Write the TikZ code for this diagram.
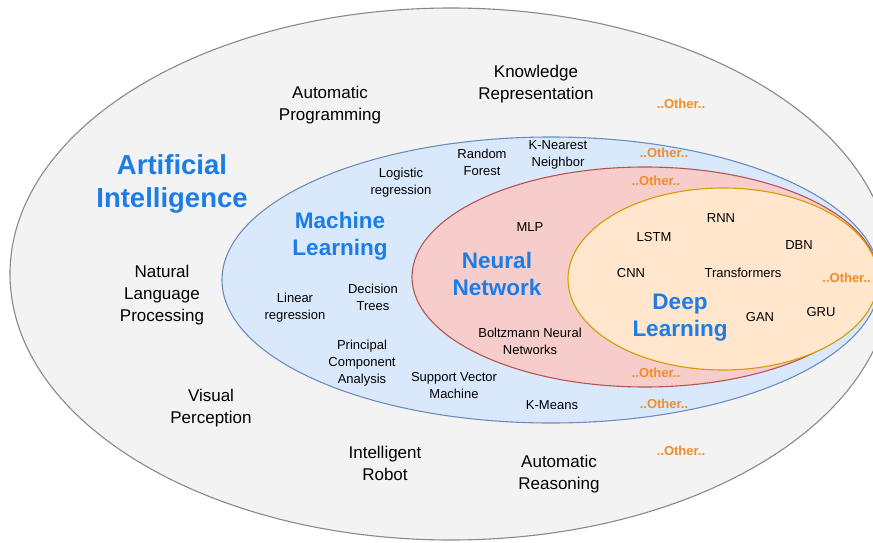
\documentclass[tikz,border=0pt]{standalone}
\usepackage{fontspec}
\setmainfont{Liberation Sans}
\definecolor{aifill}{HTML}{F3F3F3}
\definecolor{aidraw}{HTML}{8A8A8A}
\definecolor{mlfill}{HTML}{DAE8FC}
\definecolor{mldraw}{HTML}{6C8EBF}
\definecolor{nnfill}{HTML}{F6CDCA}
\definecolor{nndraw}{HTML}{B85450}
\definecolor{dlfill}{HTML}{FFE6CC}
\definecolor{dldraw}{HTML}{D79B00}
\definecolor{titleblue}{HTML}{1C7CE8}
\definecolor{otherorange}{HTML}{F28C28}
\begin{document}
\begin{tikzpicture}[x=1pt,y=-1pt,
  big/.style={font=\fontsize{17}{22}\selectfont, align=center, inner sep=0pt, text=black},
  small/.style={font=\fontsize{13}{17}\selectfont, align=center, inner sep=0pt, text=black},
  title/.style={font=\bfseries\fontsize{22.5}{27}\selectfont, align=center, inner sep=0pt, text=titleblue},
  other/.style={font=\bfseries\fontsize{13}{16}\selectfont, inner sep=0pt, text=otherorange},
  zone/.style={line width=1.1pt}]
\useasboundingbox (0,0) rectangle (873,543);
\fill[white] (0,0) rectangle (873,543);
\begin{scope}
\clip (0,0) rectangle (873,543);
% nested fields
\draw[zone, fill=aifill, draw=aidraw] (451,274) ellipse [x radius=441, y radius=266];
\draw[zone, fill=mlfill, draw=mldraw] (551,280) ellipse [x radius=329, y radius=143];
\draw[zone, fill=nnfill, draw=nndraw] (645,277) ellipse [x radius=233, y radius=110];
\draw[zone, fill=dlfill, draw=dldraw] (723,279) ellipse [x radius=155, y radius=91];
\end{scope}

% Artificial Intelligence
\node[title, font=\bfseries\fontsize{27.5}{33}\selectfont] (ai) at (172,184) {Artificial\\Intelligence};
\node[big] (autoprog) at (330,105) {Automatic\\Programming};
\node[big] (knowrep) at (536,84) {Knowledge\\Representation};
\node[other] (aio1) at (681,104) {..Other..};
\node[big] (nlp) at (162,295) {Natural\\Language\\Processing};
\node[big] (vision) at (211,408) {Visual\\Perception};
\node[big] (robot) at (385,463) {Intelligent\\Robot};
\node[big] (reason) at (559,474) {Automatic\\Reasoning};
\node[other] (aio2) at (681,451) {..Other..};

% Machine Learning
\node[title] (ml) at (340,236) {Machine\\Learning};
\node[small] (logreg) at (401,183) {Logistic\\regression};
\node[small] (rforest) at (482,162) {Random\\Forest};
\node[small] (knn) at (558,155) {K-Nearest\\Neighbor};
\node[other] (mlo1) at (664,153) {..Other..};
\node[small] (linreg) at (295,308) {Linear\\regression};
\node[small] (dtree) at (373,297) {Decision\\Trees};
\node[small] (pca) at (362,363) {Principal\\Component\\Analysis};
\node[small] (svm) at (454,386) {Support Vector\\Machine};
\node[small] (kmeans) at (552,405) {K-Means};
\node[other] (mlo2) at (664,404) {..Other..};

% Neural Network
\node[title] (nn) at (497,274) {Neural\\Network};
\node[small] (mlp) at (530,227) {MLP};
\node[small] (boltz) at (530,341) {Boltzmann Neural\\Networks};
\node[other] (nno1) at (656,181) {..Other..};
\node[other] (nno2) at (656,373) {..Other..};

% Deep Learning
\node[title] (dl) at (680,318) {Deep\\Learning};
\node[small] (rnn) at (721,218) {RNN};
\node[small] (lstm) at (654,237) {LSTM};
\node[small] (dbn) at (799,245) {DBN};
\node[small] (cnn) at (631,273) {CNN};
\node[small] (transf) at (743,273) {Transformers};
\node[other, anchor=east] (dlo) at (871,278) {..Other..};
\node[small] (gan) at (760,317) {GAN};
\node[small] (gru) at (821,312) {GRU};
\end{tikzpicture}
\end{document}
